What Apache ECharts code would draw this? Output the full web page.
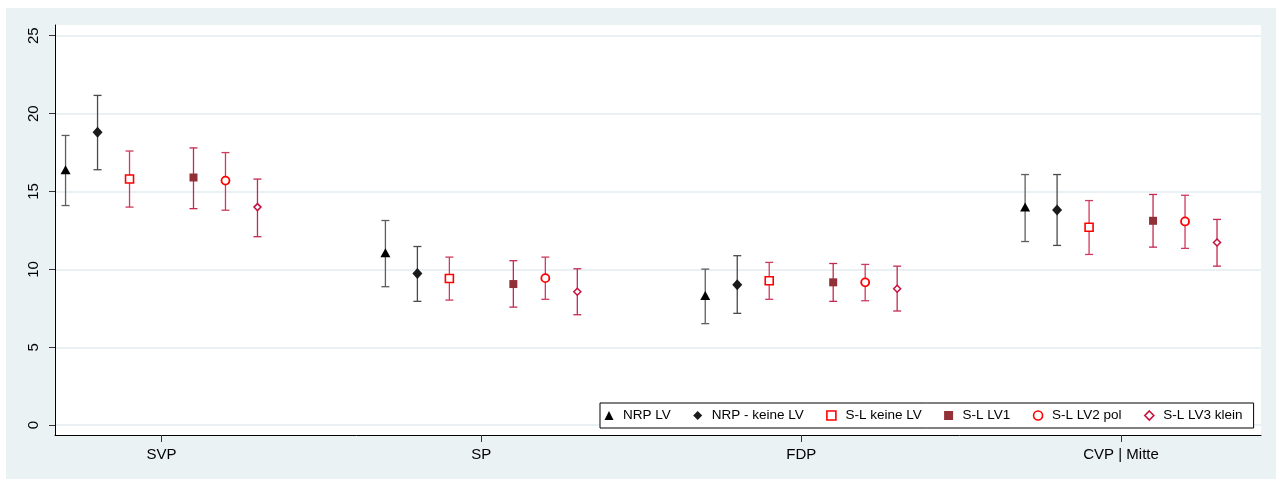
<!DOCTYPE html>
<html>
<head>
<meta charset="utf-8">
<script src="https://cdn.jsdelivr.net/npm/echarts@6/dist/echarts.min.js"></script>
<style>
  html, body { margin: 0; padding: 0; background: #ffffff; }
  #chart { position: absolute; left: 6px; top: 8px; width: 1270px; height: 471px; }
</style>
</head>
<body>
<div id="chart"></div>
<script>
// ---- data ----
const categories = ['SVP', 'SP', 'FDP', 'CVP | Mitte'];
const seriesNames = ['NRP LV', 'NRP - keine LV', 'S-L keine LV', 'S-L LV1', 'S-L LV2 pol', 'S-L LV3 klein'];
const yTicks = [0, 5, 10, 15, 20, 25];

const nrpLV      = [16.4, 11.07, 8.33, 14.0];
const nrpLVLo    = [14.1, 8.89, 6.52, 11.79];
const nrpLVHi    = [18.6, 13.14, 10.02, 16.09];

const nrpKeine   = [18.8, 9.74, 9.02, 13.82];
const nrpKeineLo = [16.4, 7.95, 7.18, 11.54];
const nrpKeineHi = [21.17, 11.47, 10.88, 16.09];

const slKeine    = [15.8, 9.42, 9.27, 12.71];
const slKeineLo  = [14.0, 8.03, 8.08, 10.96];
const slKeineHi  = [17.6, 10.79, 10.45, 14.42];

const slLV1      = [15.9, 9.06, 9.17, 13.12];
const slLV1Lo    = [13.9, 7.58, 7.95, 11.43];
const slLV1Hi    = [17.8, 10.56, 10.38, 14.81];

const slLV2      = [15.7, 9.44, 9.17, 13.08];
const slLV2Lo    = [13.8, 8.08, 7.99, 11.35];
const slLV2Hi    = [17.5, 10.79, 10.32, 14.76];

const slLV3      = [14.0, 8.57, 8.76, 11.73];
const slLV3Lo    = [12.1, 7.09, 7.33, 10.21];
const slLV3Hi    = [15.8, 10.04, 10.21, 13.21];

// ---- build ----
const groups = [
  { est: nrpLV,    lo: nrpLVLo,    hi: nrpLVHi },
  { est: nrpKeine, lo: nrpKeineLo, hi: nrpKeineHi },
  { est: slKeine,  lo: slKeineLo,  hi: slKeineHi },
  { est: slLV1,    lo: slLV1Lo,    hi: slLV1Hi },
  { est: slLV2,    lo: slLV2Lo,    hi: slLV2Hi },
  { est: slLV3,    lo: slLV3Lo,    hi: slLV3Hi }
];

const dodge = [-0.3, -0.2, -0.1, 0.1, 0.2, 0.3];
const barColors = ['#5e5e5e', '#4a4a4a', '#cf3a5e', '#c42a50', '#cf3a5e', '#c42a50'];
const markerStyles = [
  { symbol: 'triangle', symbolSize: [10, 9], itemStyle: { color: '#000000', opacity: 1 } },
  { symbol: 'diamond', symbolSize: [10, 11], itemStyle: { color: '#1a1a1a', opacity: 1 } },
  { symbol: 'rect', symbolSize: 8, itemStyle: { color: '#ffffff', borderColor: '#ff0000', borderWidth: 1.6, opacity: 1 } },
  { symbol: 'rect', symbolSize: 8, itemStyle: { color: '#923038', opacity: 1 } },
  { symbol: 'circle', symbolSize: 8, itemStyle: { color: '#ffffff', borderColor: '#ff0000', borderWidth: 1.8, opacity: 1 } },
  { symbol: 'diamond', symbolSize: 7, itemStyle: { color: '#ffffff', borderColor: '#c8103c', borderWidth: 1.5, opacity: 1 } }
];

const FONT = '"Liberation Sans", Arial, sans-serif';
const series = [];

groups.forEach((g, s) => {
  const data = categories.map((c, i) => [i + 1 + dodge[s], g.lo[i], g.hi[i]]);
  series.push({
    type: 'custom',
    name: 'ci' + s,
    silent: true,
    z: 2,
    data: data,
    encode: { x: 0, y: [1, 2] },
    renderItem: function (params, api) {
      const x = api.value(0);
      const top = api.coord([x, api.value(2)]);
      const bot = api.coord([x, api.value(1)]);
      const hw = 4;
      const st = { stroke: barColors[s], lineWidth: 1.3 };
      return {
        type: 'group',
        children: [
          { type: 'line', shape: { x1: top[0], y1: top[1], x2: bot[0], y2: bot[1] }, style: st },
          { type: 'line', shape: { x1: top[0] - hw, y1: top[1], x2: top[0] + hw, y2: top[1] }, style: st },
          { type: 'line', shape: { x1: bot[0] - hw, y1: bot[1], x2: bot[0] + hw, y2: bot[1] }, style: st }
        ]
      };
    }
  });
});

groups.forEach((g, s) => {
  series.push(Object.assign({
    type: 'scatter',
    name: seriesNames[s],
    z: 5,
    symbolKeepAspect: true,
    data: categories.map((c, i) => [i + 1 + dodge[s], g.est[i]])
  }, markerStyles[s]));
});

const chart = echarts.init(document.getElementById('chart'), null, { renderer: 'canvas' });
chart.setOption({
  backgroundColor: '#eaf2f3',
  animation: false,
  textStyle: { fontFamily: FONT },
  grid: {
    left: 49, right: 15, top: 17, bottom: 44,
    show: true, backgroundColor: '#ffffff', borderWidth: 0,
    containLabel: false
  },
  xAxis: {
    type: 'value',
    min: 0.667, max: 4.4375,
    axisLine: { show: true, onZero: false, lineStyle: { color: '#000000', width: 1 } },
    axisTick: { show: true, length: 7, customValues: [1, 2, 3, 4], lineStyle: { color: '#333333' } },
    axisLabel: {
      customValues: [1, 2, 3, 4],
      formatter: v => categories[Math.round(v) - 1],
      color: '#000000', fontSize: 15, fontFamily: FONT, margin: 12
    },
    splitLine: { show: false }
  },
  yAxis: {
    type: 'value',
    min: -0.63, max: 25.69,
    axisLine: { show: true, onZero: false, lineStyle: { color: '#000000', width: 1 } },
    axisTick: { show: true, length: 6, customValues: yTicks, lineStyle: { color: '#333333' } },
    axisLabel: {
      customValues: yTicks,
      rotate: 90,
      color: '#000000', fontSize: 15, fontFamily: FONT, margin: 14
    },
    splitLine: { show: true, lineStyle: { color: '#e3edf0', width: 1.5 } }
  },
  legend: {
    data: seriesNames,
    left: 594, top: 395,
    orient: 'horizontal',
    itemWidth: 9, itemHeight: 9, itemGap: 22.4,
    symbolKeepAspect: true,
    padding: [4.5, 11, 4.5, 4.5],
    backgroundColor: '#ffffff',
    borderColor: '#000000', borderWidth: 1, borderRadius: 0,
    itemStyle: { borderWidth: 1.6 },
    textStyle: { fontSize: 13.5, color: '#000000', fontFamily: FONT, lineHeight: 16, padding: [0, 0, 0, 4.5] },
    selectedMode: false
  },
  series: series
});
</script>
</body>
</html>
